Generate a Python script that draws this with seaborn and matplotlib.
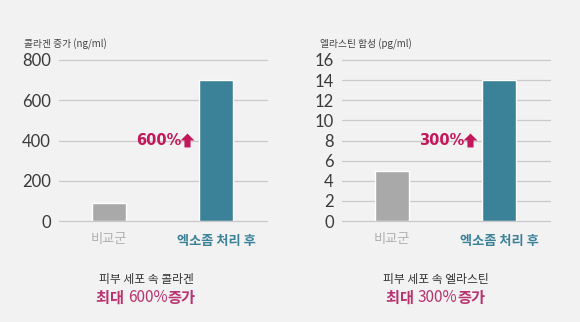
import matplotlib
matplotlib.use("Agg")
import matplotlib.pyplot as plt
from matplotlib.path import Path
import seaborn as sns
import pandas as pd

# Data
categories = ["비교군", "엑소좀 처리 후"]
collagen = [88, 700]
elastin = [5, 14]
collagen_ticks = [0, 200, 400, 600, 800]
elastin_ticks = [0, 2, 4, 6, 8, 10, 12, 14, 16]
collagen_label = "콜라겐 증가 (ng/ml)"
elastin_label = "엘라스틴 합성 (pg/ml)"
collagen_badge = "600%"
elastin_badge = "300%"
collagen_caption = "피부 세포 속 콜라겐"
elastin_caption = "피부 세포 속 엘라스틴"
collagen_gain = ["최대 ", "600%", "증가"]
elastin_gain = ["최대 ", "300%", "증가"]

BG = "#f2f2f2"
GRAY = "#a9a9a9"
TEAL = "#3b8299"
CRIMSON = "#c2185b"
CAPTION_PINK = "#b8336f"
GRID = "#c9c9c9"

sns.set_theme(style="white")
plt.rcParams["font.family"] = ["Noto Sans CJK KR", "DejaVu Sans"]

W, H = 580, 322
fig = plt.figure(figsize=(W / 100, H / 100), dpi=100)
fig.patch.set_facecolor(BG)

# block "up" arrow used next to the percentage badges
UP_ARROW = Path([(-0.22, -0.5), (0.22, -0.5), (0.22, 0.0), (0.5, 0.0),
                 (0.0, 0.5), (-0.5, 0.0), (-0.22, 0.0), (-0.22, -0.5)],
                [Path.MOVETO] + [Path.LINETO] * 6 + [Path.CLOSEPOLY])


def px_axes(x0, x1, ytop, ybot):
    return fig.add_axes([x0 / W, 1 - ybot / H, (x1 - x0) / W, (ybot - ytop) / H])


def draw_panel(ax, values, ticks, ylabel, badge, label_x):
    ax.set_facecolor(BG)
    df = pd.DataFrame({"group": categories, "value": values})
    sns.barplot(data=df, x="group", y="value", hue="group",
                palette=[GRAY, TEAL], width=0.316, legend=False,
                saturation=1, ax=ax, zorder=3)
    ax.set_xlim(-0.465, 1.47)
    ax.set_ylim(ticks[0], ticks[-1])
    ax.set_yticks(ticks)
    ax.set_yticklabels([str(t) for t in ticks], fontsize=12,
                       color="#3a3a3a", family=["Lato", "DejaVu Sans"])
    for t in ticks:
        ax.axhline(t, color=GRID, lw=0.9, zorder=1, clip_on=False)
    for s in ax.spines.values():
        s.set_visible(False)
    ax.tick_params(axis="y", length=0, pad=6)
    ax.tick_params(axis="x", length=0, pad=9)
    ax.set_xlabel("")
    ax.set_ylabel("")
    ax.set_xticks([0, 1], categories, fontsize=9.5)
    ax.get_xticklabels()[0].set_color("#b0b0b0")
    ax.get_xticklabels()[1].set_color(TEAL)
    ax.get_xticklabels()[1].set_fontweight("bold")
    ax.text(label_x, 1.1, ylabel, transform=ax.transAxes, fontsize=7,
            color="#444444", ha="left", va="center")
    ymid = ticks[len(ticks) // 2]
    t = ax.text(0.25, ymid, badge, fontsize=10.5, fontweight="bold",
                color=CRIMSON, ha="left", va="center", zorder=4,
                family=["DejaVu Sans"])
    return t, ymid


ax1 = px_axes(59, 267, 60, 221)
b1 = draw_panel(ax1, collagen, collagen_ticks, collagen_label, collagen_badge, -0.17)
ax2 = px_axes(342, 550, 60, 221)
b2 = draw_panel(ax2, elastin, elastin_ticks, elastin_label, elastin_badge, -0.105)

fig.canvas.draw()
renderer = fig.canvas.get_renderer()

# arrows placed right after each badge text
for ax, (t, ymid) in ((ax1, b1), (ax2, b2)):
    bb = t.get_window_extent(renderer)
    xd = ax.transData.inverted().transform((bb.x1 + 6, 0))[0]
    yd = ax.transData.inverted().transform((0, (bb.y0 + bb.y1) / 2 + 1))[1]
    ax.plot([xd], [yd], marker=UP_ARROW, markersize=10, color=CRIMSON,
            markeredgewidth=0, linestyle="none", zorder=4, clip_on=False)


def caption(cx, caption_text, parts):
    fig.text(cx / W, 1 - 280 / H, caption_text, fontsize=8.5, color="#333333",
             ha="center", va="center")
    styles = [dict(fontweight="bold"), dict(fontweight="light"),
              dict(fontweight="bold")]
    items = []
    total = 0
    for p, st in zip(parts, styles):
        t = fig.text(0, 1 - 298 / H, p, fontsize=11, color=CAPTION_PINK,
                     ha="left", va="center", **st)
        w = t.get_window_extent(renderer).width
        items.append((t, w))
        total += w
    x = cx - total / 2
    for t, w in items:
        t.set_x(x / W)
        x += w


caption(146, collagen_caption, collagen_gain)
caption(436, elastin_caption, elastin_gain)

fig.savefig("out.png", dpi=100, facecolor=BG)
